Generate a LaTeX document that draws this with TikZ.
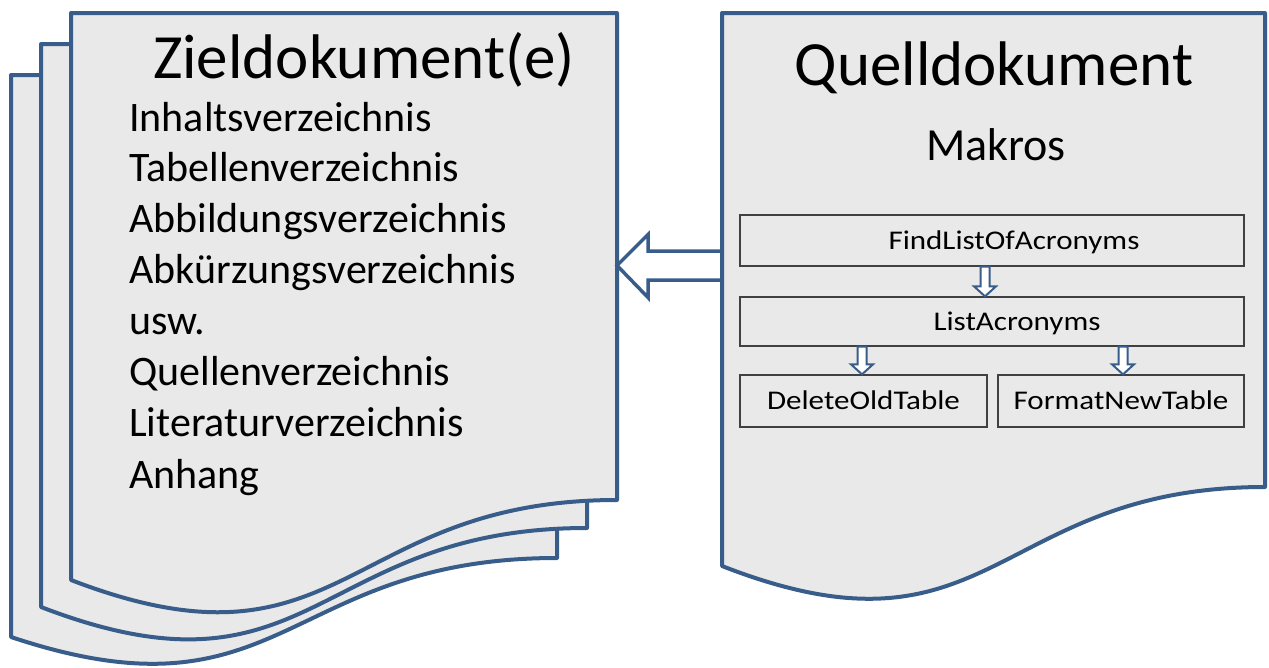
\documentclass[tikz,border=0pt]{standalone}
\usepackage{fontspec}
\setmainfont{Carlito}
\usetikzlibrary{calc}
\definecolor{pageblue}{HTML}{385D8A}
\definecolor{pagefill}{HTML}{E9E9E9}
\newcommand\dnblockarrow[2]{%
  \draw[smallarrow] ($(#1)+(-4.5,0)$) -- ($(#1)+(4.5,0)$) -- ($(#2)+(4.5,-10)$) -- ($(#2)+(11,-10)$) -- (#2) -- ($(#2)+(-11,-10)$) -- ($(#2)+(-4.5,-10)$) -- cycle;}
\begin{document}
\begin{tikzpicture}[x=1pt,y=-1pt,
  page/.style={draw=pageblue, fill=pagefill, line width=4pt, line join=round},
  box/.style={draw=black!75, line width=1.3pt, inner sep=0pt, text height=17pt, text depth=0pt, font=\fontsize{27}{30}\selectfont},
  bigarrow/.style={draw=pageblue, fill=white, line width=3.5pt, line join=miter},
  smallarrow/.style={draw=pageblue, fill=white, line width=2pt, line join=miter},
  listitem/.style={anchor=base west, inner sep=0pt, font=\fontsize{42}{50}\selectfont},
  title/.style={anchor=base, inner sep=0pt, font=\fontsize{63}{70}\selectfont},
  subtitle/.style={anchor=base, inner sep=0pt, font=\fontsize{46}{52}\selectfont}]

\useasboundingbox (0,0) rectangle (1269,667);

% stacked target documents
\draw[page] (11,75) coordinate (z3) -- (557,75) -- (557,558) .. controls (284,558) and (284,728) .. (11,637) -- cycle;
\draw[page] (41,44) coordinate (z2) -- (587,44) -- (587,528) .. controls (314,528) and (314,712) .. (41,607) -- cycle;
\draw[page] (71,13) coordinate (z1) -- (617,13) -- (617,500) .. controls (344,500) and (344,685) .. (71,580) -- cycle;

\node[title] (ztitle) at (364,78) {Zieldokument(e)};
\node[listitem] (l1) at (129,131) {Inhaltsverzeichnis};
\node[listitem] (l2) at (129,181) {Tabellenverzeichnis};
\node[listitem] (l3) at (129,232) {Abbildungsverzeichnis};
\node[listitem] (l4) at (129,283) {Abkürzungsverzeichnis};
\node[listitem] (l5) at (129,334) {usw.};
\node[listitem] (l6) at (129,385) {Quellenverzeichnis};
\node[listitem] (l7) at (129,436) {Literaturverzeichnis};
\node[listitem] (l8) at (129,488) {Anhang};

% connector from source to target
\coordinate (zE) at (617,265.5);
\coordinate (qW) at (722,265.5);
\draw[bigarrow] ($(qW)+(0,-14.5)$) -- ($(zE)+(31,-14.5)$) -- ($(zE)+(31,-31)$) -- (zE) -- ($(zE)+(31,32)$) -- ($(zE)+(31,14.5)$) -- ($(qW)+(0,14.5)$);

% source document
\draw[page] (722,13) coordinate (q) -- (1265,13) -- (1265,487) .. controls (993.5,487) and (993.5,672) .. (722,566) -- cycle;
\node[title] (qtitle) at (994,85) {Quelldokument};
\node[subtitle] (makros) at (996,160) {Makros};

\node[box, minimum width=504pt, minimum height=51pt] (b1) at (992,240.5) {\hspace*{44pt}\scalebox{1.15}[1]{FindListOfAcronyms}};
\node[box, minimum width=504pt, minimum height=49pt] (b2) at (992,321.5) {\hspace*{50pt}\scalebox{1.15}[1]{ListAcronyms}};
\node[box, minimum width=247pt, minimum height=52pt] (b3) at (863.5,401) {\scalebox{1.15}[1]{DeleteOldTable}};
\node[box, minimum width=246pt, minimum height=52pt] (b4) at (1121,401) {\scalebox{1.15}[1]{FormatNewTable}};

\coordinate (xa1) at (985,0);
\coordinate (xa2) at (862,0);
\coordinate (xa3) at (1123,0);
\coordinate (a1s) at (b1.south -| xa1);
\coordinate (a1e) at (b2.north -| xa1);
\coordinate (a2s) at (b2.south -| xa2);
\coordinate (a2e) at (b3.north -| xa2);
\coordinate (a3s) at (b2.south -| xa3);
\coordinate (a3e) at (b4.north -| xa3);
\dnblockarrow{a1s}{a1e}
\dnblockarrow{a2s}{a2e}
\dnblockarrow{a3s}{a3e}
\end{tikzpicture}
\end{document}
